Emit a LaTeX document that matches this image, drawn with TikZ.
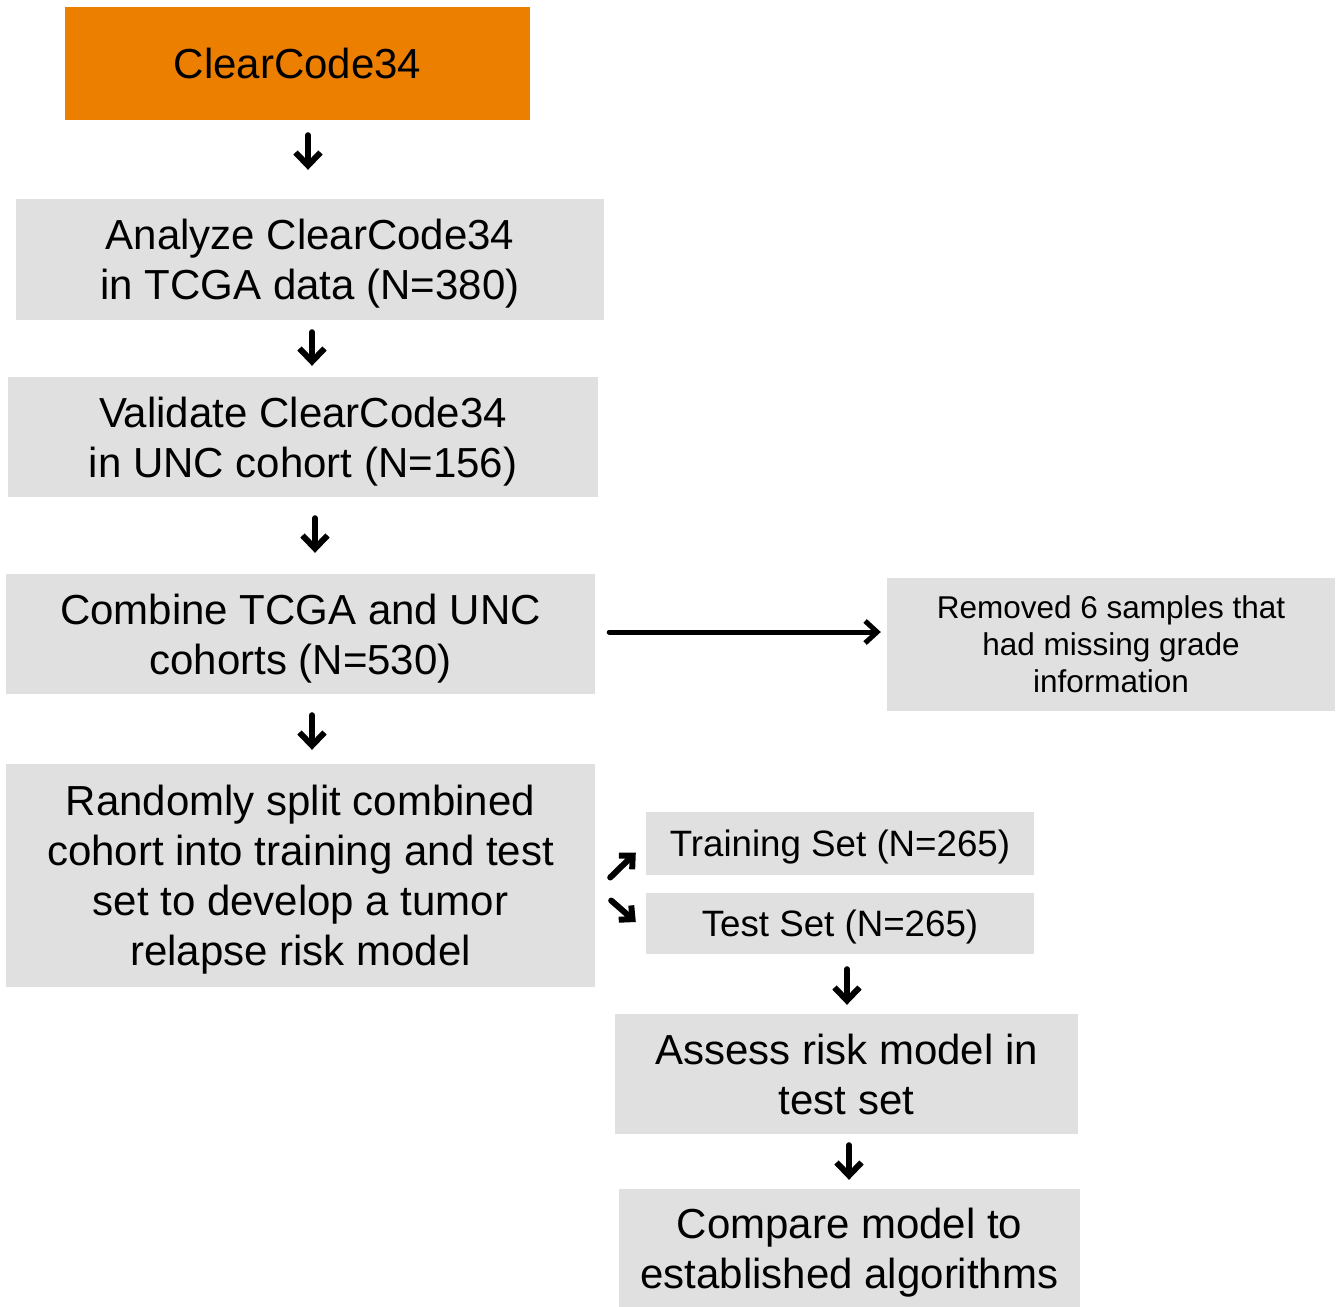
\documentclass[tikz,border=0pt]{standalone}
\usepackage{fontspec}
\setmainfont{Liberation Sans}
\usetikzlibrary{arrows.meta,calc}
\definecolor{orangebox}{RGB}{236,127,0}
\definecolor{graybox}{RGB}{224,224,224}
\begin{document}
\begin{tikzpicture}[x=1pt,y=-1pt,
  box/.style={fill=graybox, inner sep=0pt, align=center, text depth=0pt, font=\fontsize{42}{50}\selectfont},
  smallbox/.style={fill=graybox, inner sep=0pt, align=center, text depth=0pt, font=\fontsize{31.5}{37}\selectfont},
  midbox/.style={fill=graybox, inner sep=0pt, align=center, text depth=0pt, font=\fontsize{36.7}{44}\selectfont},
  arr/.style={line width=6pt, -{Straight Barb[length=13pt,width=25pt]}, line cap=round, line join=round},
  harr/.style={line width=5pt, -{Straight Barb[length=12pt,width=22pt]}, line cap=round, line join=round},
  darr/.style={line width=6pt, -{Straight Barb[length=10pt,width=19pt]}, line cap=round, line join=round}]
\useasboundingbox (0,0) rectangle (1342,1307);
\fill[white] (0,0) rectangle (1342,1307);

\node[box, fill=orangebox, minimum width=465pt, minimum height=113pt] (cc) at (297.5,63.5) {ClearCode34};
\node[box, minimum width=588pt, minimum height=121pt] (an) at (310,259.5) {Analyze ClearCode34\\in TCGA data (N=380)};
\node[box, minimum width=590pt, minimum height=120pt] (va) at (303,437) {Validate ClearCode34\\in UNC cohort (N=156)};
\node[box, minimum width=589pt, minimum height=120pt] (co) at (300.5,634) {Combine TCGA and UNC\\cohorts (N=530)};
\node[smallbox, minimum width=448pt, minimum height=133pt] (rm) at (1111,644.5) {Removed 6 samples that\\had missing grade\\information};
\node[box, minimum width=589pt, minimum height=223pt] (ra) at (300.5,875.5) {Randomly split combined\\cohort into training and test\\set to develop a tumor\\relapse risk model};
\node[midbox, minimum width=388pt, minimum height=63pt] (tr) at (840,843.5) {Training Set (N=265)};
\node[midbox, minimum width=388pt, minimum height=61pt] (te) at (840,923.5) {Test Set (N=265)};
\node[box, minimum width=463pt, minimum height=120pt] (as) at (846.5,1074) {Assess risk model in\\test set};
\node[box, minimum width=461pt, minimum height=118pt] (cm) at (849.5,1248) {Compare model to\\established algorithms};

\draw[arr] ($(cc.south)+(10.5,15)$) -- ($(an.north)+(-2,-29)$);
\draw[arr] ($(an.south)+(2,12)$) -- ($(va.north)+(9,-11)$);
\draw[arr] ($(va.south)+(12,21)$) -- ($(co.north)+(14.5,-21)$);
\draw[arr] ($(co.south)+(11.5,21)$) -- ($(ra.north)+(11.5,-14)$);
\draw[harr] ($(co.east)+(14,-2)$) -- ($(rm.west)+(-6,-12.5)$);
\draw[darr] ($(ra.east)+(15,2)$) -- ($(tr.west)+(-10,9)$);
\draw[darr] ($(ra.east)+(16,25)$) -- ($(te.west)+(-10,-1.5)$);
\draw[arr] ($(te.south)+(7,15)$) -- ($(as.north)+(0.5,-9)$);
\draw[arr] ($(as.south)+(2.5,11)$) -- ($(cm.north)+(-0.5,-9)$);
\end{tikzpicture}
\end{document}
